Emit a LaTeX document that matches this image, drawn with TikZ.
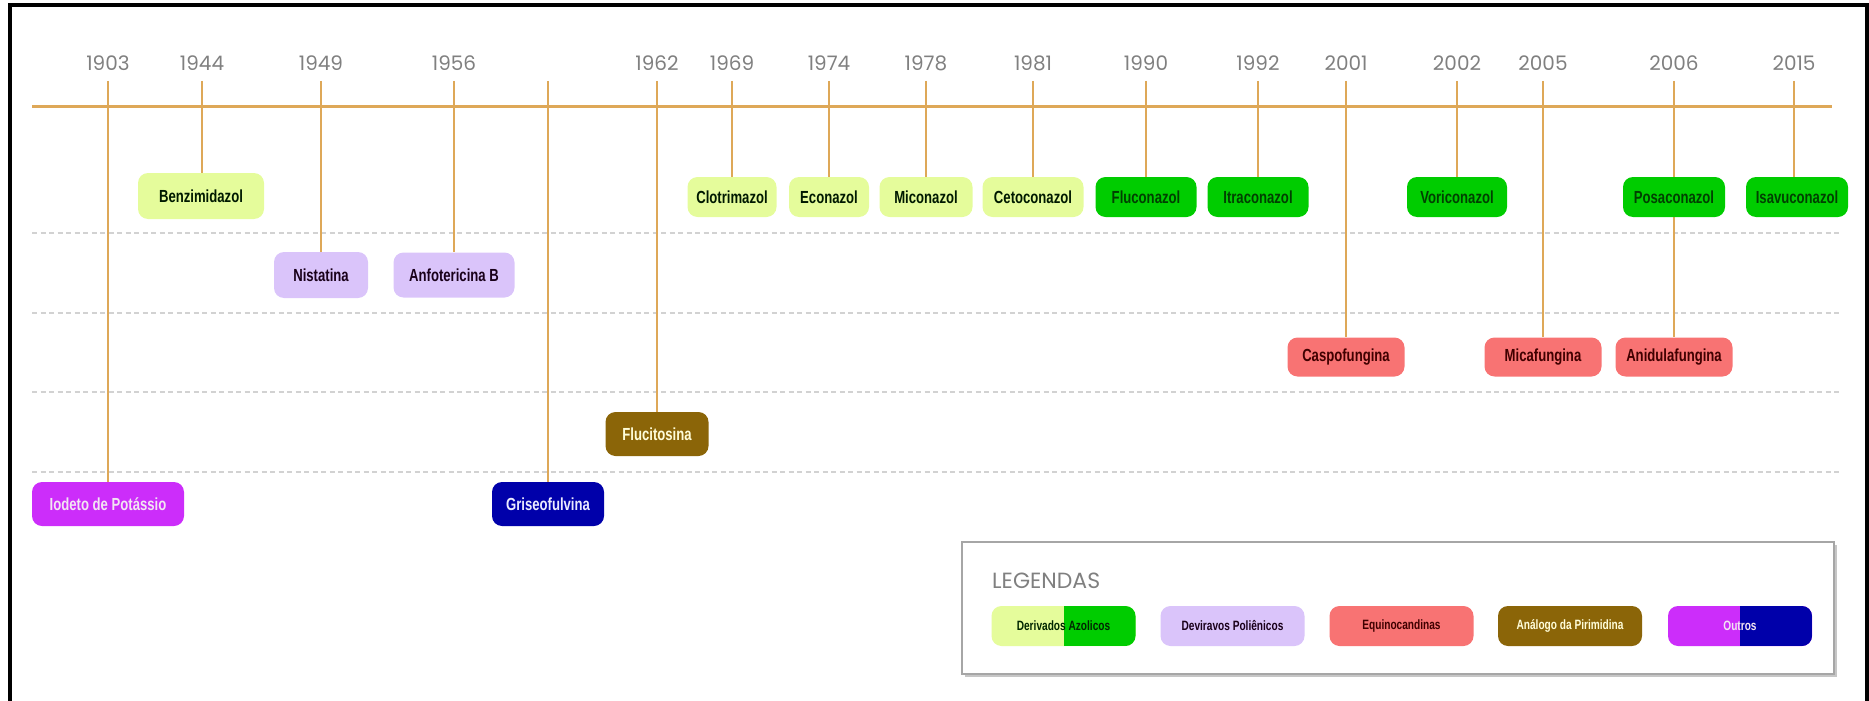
\documentclass[tikz,border=0pt]{standalone}
\usepackage{fontspec}
\usepackage{tikz}
\usetikzlibrary{backgrounds,shadows}
\newfontfamily\boxfont{Liberation Sans}[FakeStretch=0.75]
\newfontfamily\yearfont{Poppins}
\definecolor{timeline}{RGB}{222,168,88}
\definecolor{azolA}{RGB}{229,252,155}
\definecolor{azolB}{RGB}{0,204,0}
\definecolor{polien}{RGB}{218,196,250}
\definecolor{equino}{RGB}{248,115,115}
\definecolor{pirim}{RGB}{139,101,8}
\definecolor{outrosA}{RGB}{204,45,250}
\definecolor{outrosB}{RGB}{0,0,170}
\definecolor{yeargray}{RGB}{128,128,128}
\tikzset{
  drug/.style={rounded corners=10pt, inner sep=0pt, font=\boxfont\bfseries\fontsize{17.5}{20}\selectfont},
  azolold/.style={drug, fill=azolA, text=black!90!green},
  azolnew/.style={drug, fill=azolB, text=black!75!green},
  polien/.style={drug, fill=polien, text=black!80!violet},
  equino/.style={drug, fill=equino, text=black!75!red},
  pirim/.style={drug, fill=pirim, text=yellow!15},
  outroM/.style={drug, fill=outrosA, text=violet!10},
  outroB/.style={drug, fill=outrosB, text=blue!8},
  split/.style 2 args={fill=#1, path picture={\fill[#2, sharp corners] (path picture bounding box.north) rectangle (path picture bounding box.south east);}},
  legitem/.style={rounded corners=10pt, inner sep=0pt, minimum width=144pt, minimum height=40pt, font=\boxfont\bfseries\fontsize{13.5}{16}\selectfont},
  year/.style={font=\yearfont\fontsize{20}{22}\selectfont, text=yeargray, inner sep=0pt},
  stem/.style={draw=timeline, line width=2.3pt},
  axis/.style={draw=timeline, line width=3pt},
  rowline/.style={draw=gray!35, line width=1.2pt, dash pattern=on 5pt off 3.5pt},
}
\begin{document}
\begin{tikzpicture}[x=1pt, y=-1pt]
\useasboundingbox (0,0) rectangle (1869,701);
\draw[line width=4pt] (10,5.5) rectangle (1867,710);

% years on top of the axis
\foreach \x/\yr/\name in {108/1903/iodeto, 202/1944/benz, 321/1949/nista, 454/1956/anfo,
    657/1962/fluci, 732/1969/clotri, 829/1974/econ, 926/1978/micon, 1033/1981/ceto,
    1146/1990/fluco, 1258/1992/itra, 1346/2001/caspo, 1457/2002/vori, 1543/2005/mica,
    1674/2006/posa, 1794/2015/isavu}
  {
  \node[year] (y-\name) at (\x,63) {\yr};
  \coordinate (t-\name) at (\x,81);
  }
\coordinate (t-griseo) at (548,81);

% drugs
\foreach \x/\r/\w/\h/\sty/\name/\txt in {108/504/152/44/outroM/iodeto/Iodeto de Potássio,
    201/196/126/46/azolold/benz/Benzimidazol, 321/275/94/46/polien/nista/Nistatina,
    454/275/121/45/polien/anfo/Anfotericina B, 548/504/112/44/outroB/griseo/Griseofulvina,
    657/434/103/44/pirim/fluci/Flucitosina, 732/197/89/40/azolold/clotri/Clotrimazol,
    829/197/80/40/azolold/econ/Econazol, 926/197/93/40/azolold/micon/Miconazol,
    1033/197/101/40/azolold/ceto/Cetoconazol, 1146/197/101/40/azolnew/fluco/Fluconazol,
    1258/197/101/40/azolnew/itra/Itraconazol, 1346/357/117/39/equino/caspo/Caspofungina,
    1457/197/100/40/azolnew/vori/Voriconazol, 1543/357/117/39/equino/mica/Micafungina,
    1674/197/102/40/azolnew/posa/Posaconazol, 1674/357/117/39/equino/anid/Anidulafungina,
    1797/197/102/40/azolnew/isavu/Isavuconazol}
  \node[\sty, minimum width=\w pt, minimum height=\h pt] (\name) at (\x,\r) {\txt};

\begin{scope}[on background layer]
  \foreach \yy in {233,313,392,472}
    \draw[rowline] (32,\yy) -- (1839,\yy);
  \foreach \from/\to in {iodeto/iodeto, benz/benz, nista/nista, anfo/anfo, griseo/griseo,
      fluci/fluci, clotri/clotri, econ/econ, micon/micon, ceto/ceto, fluco/fluco, itra/itra,
      caspo/caspo, vori/vori, mica/mica, posa/anid, isavu/isavu}
    \draw[stem] (t-\from) -- (t-\from |- \to.north);
  \draw[axis] (32,106) -- (1832,106);
\end{scope}

% legend
\node[draw=gray!70, line width=1.5pt, fill=white, minimum width=872pt, minimum height=132pt,
  drop shadow={shadow xshift=3pt, shadow yshift=-3pt, opacity=0.45}] (legenda) at (1398,608) {};
\node[year, font=\yearfont\fontsize{22}{24}\selectfont, anchor=west] (leg-title) at (992,581) {LEGENDAS};
\node[legitem, split={azolA}{azolB}, text=black!85!green] (leg-azol) at (1063.5,626) {Derivados Azolicos};
\node[legitem, fill=polien, text=black!80!violet] (leg-poli) at (1232.5,626) {Deviravos Poliênicos};
\node[legitem, fill=equino, text=black!75!red] (leg-equi) at (1401.5,626) {Equinocandinas};
\node[legitem, fill=pirim, text=yellow!15] (leg-pirim) at (1570,626) {Análogo da Pirimidina};
\node[legitem, split={outrosA}{outrosB}, text=violet!10] (leg-outros) at (1740,626) {Outros};
\end{tikzpicture}
\end{document}
